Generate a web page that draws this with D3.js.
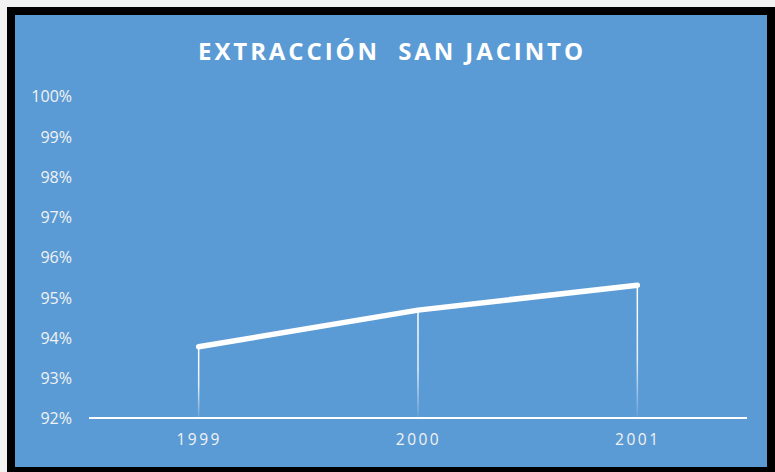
<!DOCTYPE html>
<html>
<head>
<meta charset="utf-8">
<script src="https://cdn.jsdelivr.net/npm/d3@7"></script>
<style>
  body { margin: 0; background: #f2f2f2; }
  svg { display: block; }
</style>
</head>
<body>
<div id="chart"></div>
<script>
var width = 775, height = 472;

// Data
var years = ["1999", "2000", "2001"];
var extraction = [0.9377, 0.9468, 0.9530];
var yTicks = [0.92, 0.93, 0.94, 0.95, 0.96, 0.97, 0.98, 0.99, 1.00];
var title = "EXTRACCIÓN\u00a0 SAN JACINTO";

var points = years.map(function(y, i) { return { year: y, value: extraction[i] }; });

var plot = { left: 89, right: 747, top: 96, bottom: 418 };

var svg = d3.select("#chart").append("svg")
  .attr("width", width)
  .attr("height", height);

// frame
svg.append("rect")
  .attr("x", 7).attr("y", 7)
  .attr("width", 768).attr("height", 472)
  .attr("fill", "#000");
svg.append("rect")
  .attr("x", 15).attr("y", 15)
  .attr("width", 752).attr("height", 452)
  .attr("fill", "#5b9bd5");

var defs = svg.append("defs");
var grad = defs.append("linearGradient")
  .attr("id", "dropFade")
  .attr("x1", 0).attr("y1", 0).attr("x2", 0).attr("y2", 1);
grad.append("stop").attr("offset", "0%").attr("stop-color", "#fff").attr("stop-opacity", 1);
grad.append("stop").attr("offset", "55%").attr("stop-color", "#fff").attr("stop-opacity", 0.85);
grad.append("stop").attr("offset", "100%").attr("stop-color", "#fff").attr("stop-opacity", 0.05);

// scales
var x = d3.scalePoint().domain(years).range([plot.left, plot.right]).padding(0.5);
var y = d3.scaleLinear().domain([0.92, 1.0]).range([plot.bottom, plot.top]);

// title
svg.append("text")
  .attr("x", 392)
  .attr("y", 60)
  .attr("text-anchor", "middle")
  .style("font-family", "'Open Sans', sans-serif")
  .style("font-weight", "bold")
  .style("font-size", "24px")
  .style("letter-spacing", "2.9px")
  .attr("fill", "#fff")
  .text(title);

// y axis labels
var yAxis = d3.axisLeft(y)
  .tickValues(yTicks)
  .tickFormat(d3.format(".0%"))
  .tickSize(0)
  .tickPadding(0);
var gy = svg.append("g")
  .attr("transform", "translate(72,0)")
  .call(yAxis);
gy.select(".domain").remove();
gy.selectAll("text")
  .attr("dy", "0.36em")
  .style("font-family", "'Open Sans', sans-serif")
  .style("font-size", "16px")
  .attr("fill", "#f2f2f2");

// drop lines
svg.selectAll(".drop")
  .data(points)
  .enter().append("rect")
  .attr("class", "drop")
  .attr("x", function(d) { return x(d.year) - 0.75; })
  .attr("y", function(d) { return y(d.value); })
  .attr("width", 1.5)
  .attr("height", function(d) { return y(0.92) - y(d.value); })
  .attr("fill", "url(#dropFade)");

// x axis
var xAxis = d3.axisBottom(x).tickSize(0).tickPadding(16);
var gx = svg.append("g")
  .attr("transform", "translate(0," + y(0.92) + ")")
  .call(xAxis);
gx.select(".domain")
  .attr("d", "M" + plot.left + ",0H" + plot.right)
  .attr("stroke", "#fff")
  .attr("stroke-width", 2);
gx.selectAll("text")
  .style("font-family", "'Open Sans', sans-serif")
  .style("font-size", "15.5px")
  .style("letter-spacing", "2.5px")
  .attr("fill", "#f2f2f2");

// line
var line = d3.line()
  .x(function(d) { return x(d.year); })
  .y(function(d) { return y(d.value); });

svg.append("path")
  .datum(points)
  .attr("d", line)
  .attr("fill", "none")
  .attr("stroke", "#fff")
  .attr("stroke-width", 5.5)
  .attr("stroke-linecap", "round")
  .attr("stroke-linejoin", "round");
</script>
</body>
</html>
